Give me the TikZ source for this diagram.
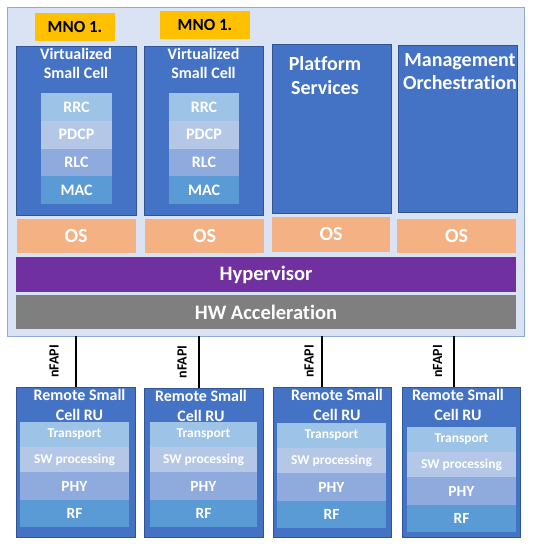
\documentclass[tikz,border=0pt]{standalone}
\usepackage{fontspec}
\setmainfont{Carlito}[Ligatures=NoCommon]
\usetikzlibrary{shadows,calc}
\definecolor{outerfill}{HTML}{DAE3F3}
\definecolor{outerdraw}{HTML}{8FAADC}
\definecolor{cellblue}{HTML}{4472C4}
\definecolor{celldraw}{HTML}{2F5597}
\definecolor{mnofill}{HTML}{FFC000}
\definecolor{layA}{HTML}{9DC3E6}
\definecolor{layB}{HTML}{B4C7E7}
\definecolor{layC}{HTML}{8FAADC}
\definecolor{layD}{HTML}{5B9BD5}
\definecolor{osfill}{HTML}{F4B183}
\definecolor{hyperfill}{HTML}{7030A0}
\definecolor{hwfill}{HTML}{7F7F7F}
\newcommand\blkat[7]{\node[#6, minimum width=#4pt, minimum height=#5pt] (#1) at (#2,#3) {#7};}
\newcommand\fsz[2]{\fontsize{#1}{#2}\selectfont\bfseries}
\begin{document}
\begin{tikzpicture}[x=1pt,y=-1pt,
  blk/.style={inner sep=0pt, outer sep=0pt, anchor=north west, text=white},
  shad/.style={drop shadow={shadow xshift=1.2pt, shadow yshift=-1.4pt, opacity=0.3, fill=black}},
  outerbox/.style={blk, fill=outerfill, draw=outerdraw, line width=1pt, shad},
  cell/.style={blk, fill=cellblue, draw=celldraw, line width=0.8pt, shad},
  mno/.style={blk, fill=mnofill, text=black, font=\fsz{17}{20}},
  lay/.style={blk, font=\fsz{16}{19}},
  rulay/.style={blk, font=\fsz{13.5}{16}},
  rulayb/.style={blk, font=\fsz{15.5}{18}},
  osbox/.style={blk, fill=osfill, font=\fsz{20}{24}},
  bar/.style={blk, font=\fsz{20.5}{24}},
  ttl/.style={inner sep=0pt, outer sep=0pt, anchor=north, text=white, align=center},
  conn/.style={line width=1.6pt, draw=black},
  nf/.style={inner sep=0pt, rotate=90, font=\fsz{14}{16}, text=black}
]
\useasboundingbox (0,0) rectangle (541,550);
% outer container
\blkat{outer}{7}{7}{517}{329}{outerbox}{}
% MNO labels
\blkat{mno1}{35}{13}{80}{28}{mno}{MNO 1.}
\blkat{mno2}{160}{11}{90}{28}{mno}{MNO 1.}
% virtualized small cells
\blkat{vc1}{16}{46}{120}{169}{cell}{}
\blkat{vc2}{144}{46}{119}{169}{cell}{}
\node[ttl, font=\fsz{16}{19.5}] (vc1t) at (76,48) {Virtualized\\Small Cell};
\node[ttl, font=\fsz{16}{19.5}] (vc2t) at (203.5,48) {Virtualized\\Small Cell};
\foreach \n/\x/\w in {1/41/71, 2/169/70}{
  \blkat{rrc\n}{\x}{93}{\w}{27.75}{lay, fill=layA}{RRC}
  \blkat{pdcp\n}{\x}{120.75}{\w}{27.75}{lay, fill=layB}{PDCP}
  \blkat{rlc\n}{\x}{148.5}{\w}{27.75}{lay, fill=layC}{RLC}
  \blkat{mac\n}{\x}{176.25}{\w}{27.75}{lay, fill=layD}{MAC}
}
% platform services and management
\blkat{ps}{272}{44}{119}{169}{cell}{}
\blkat{mo}{398}{45}{119}{167}{cell}{}
\node[ttl, font=\fsz{20}{24}] (pst) at (325,56.5) {Platform\\Services};
\node[ttl, font=\fsz{20}{23}] (mot) at (460,54) {Management\\Orchestration};
% OS row
\blkat{os1}{16.5}{219}{119}{34}{osbox}{OS}
\blkat{os2}{145}{219}{119}{34}{osbox}{OS}
\blkat{os3}{272}{217}{118}{35}{osbox}{OS}
\blkat{os4}{397}{219}{119}{34}{osbox}{OS}
% hypervisor and hw acceleration
\blkat{hyp}{16}{257}{500}{35}{bar, fill=hyperfill}{Hypervisor}
\blkat{hw}{16}{295}{500}{34}{bar, fill=hwfill}{HW Acceleration}
% remote small cell RUs
\blkat{ru1}{16}{387}{119}{150}{cell}{}
\blkat{ru2}{144}{388}{119}{149}{cell}{}
\blkat{ru3}{273}{387}{118}{150}{cell}{}
\blkat{ru4}{402}{387}{118}{150}{cell}{}
\node[ttl, font=\fsz{16}{20}] (ru1t) at (79.5,389.5) {Remote Small\\Cell RU};
\node[ttl, font=\fsz{16}{20}] (ru2t) at (201,390.5) {Remote Small\\Cell RU};
\node[ttl, font=\fsz{16}{20}] (ru3t) at (337,389) {Remote Small\\Cell RU};
\node[ttl, font=\fsz{16}{20}] (ru4t) at (458,389) {Remote Small\\Cell RU};
\foreach \n/\x/\y/\w in {1/20/422/109, 2/150/422/107, 3/277/423/109, 4/407/427/109}{
  \blkat{tr\n}{\x}{\y}{\w}{25}{rulay, fill=layA}{Transport}
  \blkat{sw\n}{\x}{\y+25}{\w}{25}{rulay, fill=layB}{SW processing}
  \blkat{phy\n}{\x}{\y+50}{\w}{28}{rulayb, fill=layC}{PHY}
  \blkat{rf\n}{\x}{\y+78}{\w}{27}{rulayb, fill=layD}{RF}
}
% nFAPI links
\coordinate (k1) at (76,0);
\coordinate (k2) at (199,0);
\coordinate (k3) at (322,0);
\coordinate (k4) at (454,0);
\foreach \n/\d in {1/22, 2/17, 3/13, 4/16.5}{
  \draw[conn] (k\n |- outer.south) -- (k\n |- ru\n.north);
  \node[nf] (nf\n) at ($($(k\n |- outer.south)!0.5!(k\n |- ru\n.north)$)+(-\d,0)$) {nFAPI};
}
\end{tikzpicture}
\end{document}
